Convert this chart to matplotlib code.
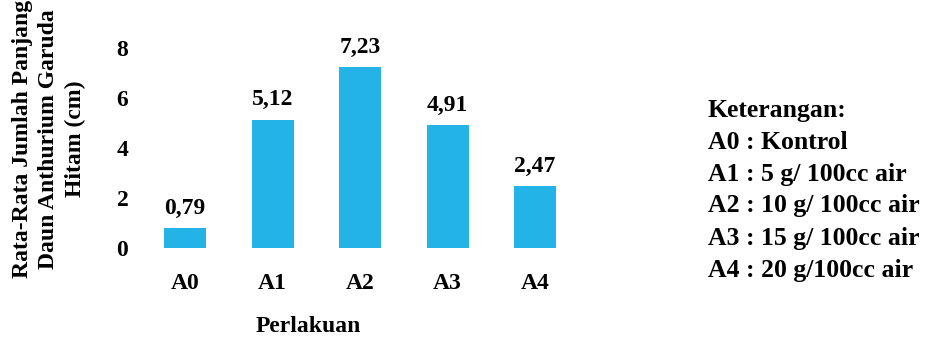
import matplotlib.pyplot as plt

# Rata-rata panjang daun per perlakuan (cm)
perlakuan = ['A0', 'A1', 'A2', 'A3', 'A4']
panjang = [0.79, 5.12, 7.23, 4.91, 2.47]
y_ticks = [0, 2, 4, 6, 8]
keterangan = [
    'Keterangan:',
    'A0 : Kontrol',
    'A1 : 5 g/ 100cc air',
    'A2 : 10 g/ 100cc air',
    'A3 : 15 g/ 100cc air',
    'A4 : 20 g/100cc air',
]

plt.rcParams['font.family'] = ['Liberation Serif', 'DejaVu Serif']
plt.rcParams['font.weight'] = 'bold'

W, H = 925, 340
fig = plt.figure(figsize=(W / 100, H / 100), dpi=100)

# axes placed in pixel units: bars centred at x=185..535, y=0 at 248 px from top
x0, x1 = -0.6, 4.6
px_per_cat = 87.5
left_px = 185 + x0 * px_per_cat
width_px = (x1 - x0) * px_per_cat
bottom_px = H - 248
height_px = 200
ax = fig.add_axes([left_px / W, bottom_px / H, width_px / W, height_px / H])

xs = range(len(perlakuan))
ax.bar(xs, panjang, width=0.48, color='#23B3E6')
for x, v in zip(xs, panjang):
    ax.annotate(f'{v:.2f}'.replace('.', ','), xy=(x, v), xytext=(0, 7),
                textcoords='offset points', ha='center', va='bottom',
                fontsize=17, fontweight='bold')

ax.set_xlim(x0, x1)
ax.set_ylim(0, 8)
ax.set_yticks(y_ticks)
ax.set_yticklabels([str(t) for t in y_ticks], fontsize=17, fontweight='bold')
ax.set_xticks(list(xs))
ax.set_xticklabels(perlakuan, fontsize=17, fontweight='bold')
ax.tick_params(axis='both', length=0)
ax.tick_params(axis='x', pad=18)
ax.tick_params(axis='y', pad=3)
for s in ax.spines.values():
    s.set_visible(False)
ax.patch.set_alpha(0)

fig.text(308 / W, 1 - 327 / H, 'Perlakuan', ha='center', va='center',
         fontsize=17, fontweight='bold')

fig.text(49 / W, 1 - 139 / H,
         'Rata-Rata Jumlah Panjang\nDaun Anthurium Garuda\nHitam (cm)',
         rotation=90, ha='center', va='center', multialignment='center',
         fontsize=17, fontweight='bold', linespacing=1.35)

for i, line in enumerate(keterangan):
    fig.text(708 / W, 1 - (110 + i * 32) / H, line, ha='left', va='center',
             fontsize=18.5, fontweight='bold')

fig.savefig('out.png', dpi=100)
